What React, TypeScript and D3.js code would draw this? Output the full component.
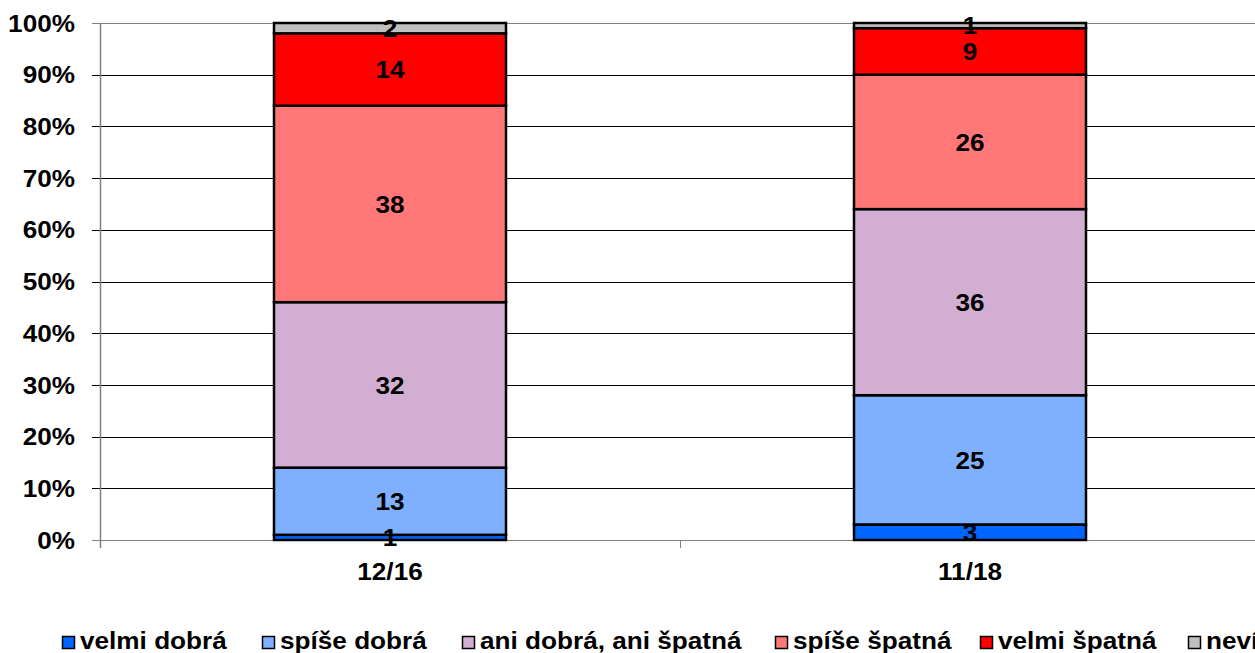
import React from "react";
import * as d3 from "d3";

const periods = ["12/16", "11/18"];
const seriesNames = ["velmi dobrá", "spíše dobrá", "ani dobrá, ani špatná", "spíše špatná", "velmi špatná", "nevím"];
const seriesColors = ["#0066FF", "#7FAFFF", "#D2AFD2", "#FF7777", "#FF0000", "#C0C0C0"];
// values per series, one per period
const velmiDobra = [1, 3];
const spiseDobra = [13, 25];
const aniAni = [32, 36];
const spiseSpatna = [38, 26];
const velmiSpatna = [14, 9];
const nevim = [2, 1];
const yTicks = [0, 10, 20, 30, 40, 50, 60, 70, 80, 90, 100];

const W = 1255;
const H = 653;
const FONT = "'Liberation Sans', Arial, sans-serif";
const SX = 1.09; // the original text is a bit wider than Arial

// text stretched horizontally around its anchor point
const Label = ({ x, y, anchor = "start", dy = "0", children }: any) => (
    <text transform={`translate(${x},${y}) scale(${SX},1)`} dy={dy} textAnchor={anchor} fontSize={24}>
        {children}
    </text>
);

const App = () => {
    const values = [velmiDobra, spiseDobra, aniAni, spiseSpatna, velmiSpatna, nevim];
    const rows = periods.map((p, i) => {
        const r: any = { period: p };
        seriesNames.forEach((s, k) => { r[s] = values[k][i]; });
        return r;
    });
    const stacked = d3.stack().keys(seriesNames)(rows);

    const x = d3.scaleBand().domain(periods).range([100, 1260]).padding(0);
    const y = d3.scaleLinear().domain([0, 100]).range([540, 23]);
    const barW = x.bandwidth() * 0.4;
    const center = (p: string) => (x(p) as number) + x.bandwidth() / 2;

    const legendX = [62, 262, 462, 775, 980, 1188];

    return (
        <svg width={W} height={H} style={{ position: "absolute", left: 0, top: 0, background: "#fff" }}
            fontFamily={FONT} fontWeight="bold">
            {/* gridlines */}
            {yTicks.map(t => (
                <line key={t} x1={92} x2={1260} y1={Math.round(y(t)) + 0.5} y2={Math.round(y(t)) + 0.5}
                    stroke={t === 0 || t === 100 ? "#808080" : "#000"} strokeWidth={1} />
            ))}
            {/* y axis */}
            <line x1={100.5} x2={100.5} y1={23} y2={548} stroke="#808080" strokeWidth={1.5} />
            {yTicks.map(t => (
                <Label key={t} x={75} y={y(t)} dy="0.36em" anchor="end">{t}%</Label>
            ))}
            {/* category tick */}
            <line x1={680.5} x2={680.5} y1={540} y2={548} stroke="#808080" strokeWidth={1} />
            {/* bars */}
            {stacked.map((layer, k) => (
                <g key={layer.key}>
                    {layer.map((d, i) => (
                        <rect key={i} x={center(periods[i]) - barW / 2} y={y(d[1])} width={barW}
                            height={y(d[0]) - y(d[1])} fill={seriesColors[k]}
                            stroke="#000" strokeWidth={2.5} />
                    ))}
                </g>
            ))}
            {stacked.map(layer => (
                <g key={"l" + layer.key}>
                    {layer.map((d, i) => (
                        <Label key={i} x={center(periods[i])} y={y((d[0] + d[1]) / 2)} dy="0.36em"
                            anchor="middle">{d[1] - d[0]}</Label>
                    ))}
                </g>
            ))}
            {/* x labels */}
            {periods.map(p => (
                <Label key={p} x={center(p)} y={580} anchor="middle">{p}</Label>
            ))}
            {/* legend */}
            {seriesNames.map((s, k) => (
                <g key={s} transform={`translate(${legendX[k]},0)`}>
                    <rect x={0.5} y={636.5} width={12} height={12} fill={seriesColors[k]} stroke="#000" strokeWidth={1.5} />
                    <Label x={18} y={649}>{s}</Label>
                </g>
            ))}
        </svg>
    );
};

export default App;
